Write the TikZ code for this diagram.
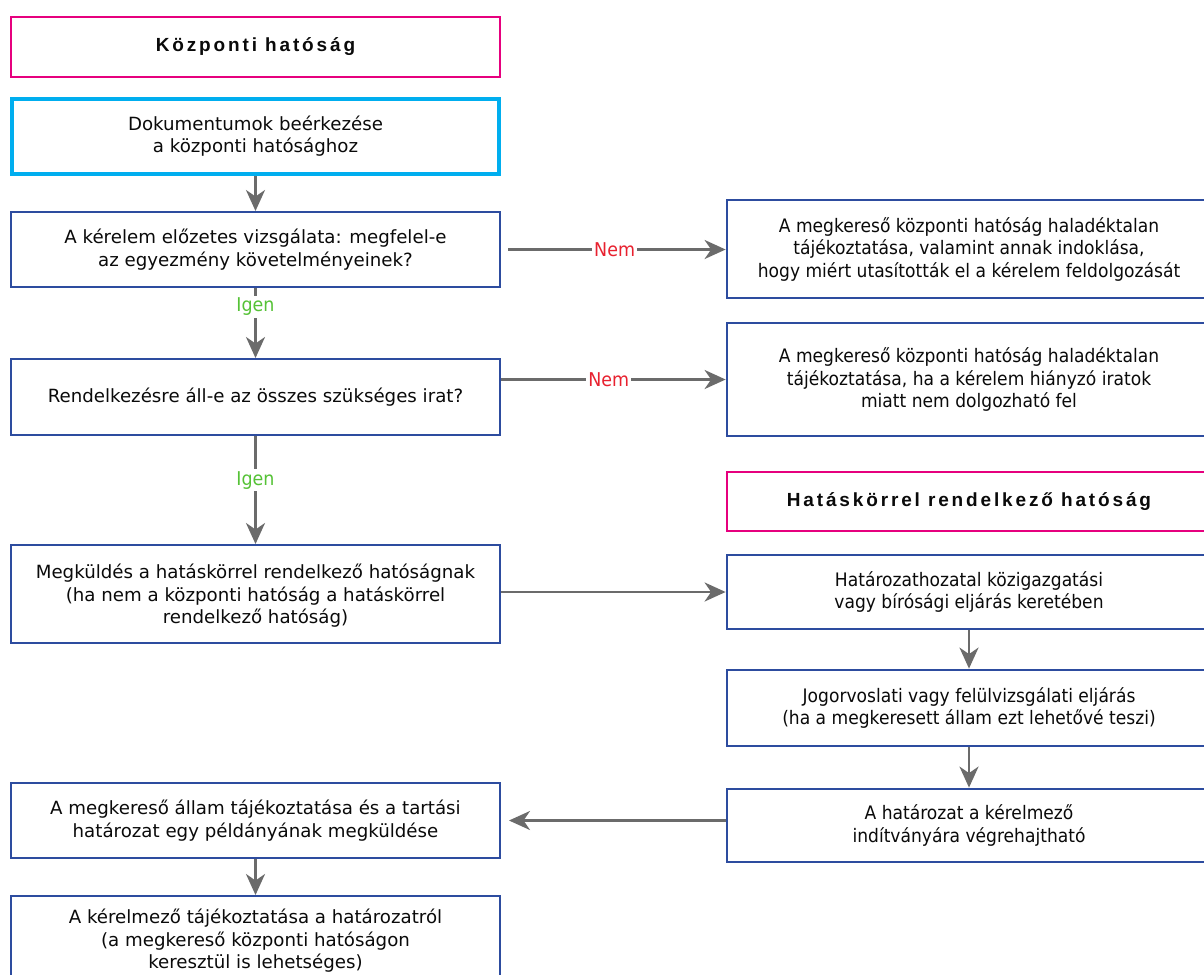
\documentclass[tikz,border=0pt]{standalone}
\usepackage{fontspec}
\setmainfont{DejaVu Sans}
\newfontfamily\condfont{DejaVu Sans}[FakeStretch=0.92]
\newfontfamily\headfont{Liberation Sans}[LetterSpace=15]
\usetikzlibrary{arrows.meta}
\definecolor{hdpink}{HTML}{E6007E}
\definecolor{startcyan}{HTML}{00AEEF}
\definecolor{boxblue}{HTML}{2D4C9F}
\definecolor{arrgray}{HTML}{6B6B6B}
\definecolor{yesgreen}{HTML}{55C236}
\definecolor{nored}{HTML}{E8212F}
\definecolor{inktext}{HTML}{0A0A0A}
\begin{document}
\begin{tikzpicture}[x=1pt,y=-1pt,
  box/.style={draw, fill=white, inner sep=0pt, align=center, text=inktext},
  lbox/.style={box, draw=boxblue, line width=2pt, minimum width=489pt,
    font=\fontsize{18.2}{22.5}\selectfont},
  rbox/.style={box, draw=boxblue, line width=2.8pt, minimum width=484pt,
    font=\condfont\fontsize{18.6}{22.5}\selectfont},
  head/.style={box, draw=hdpink, line width=2.8pt,
    font=\headfont\bfseries\fontsize{19}{22}\selectfont},
  arr/.style={draw=arrgray, line width=2.5pt,
    -{Stealth[length=21pt,width=19pt,inset=6.5pt]}},
  lab/.style={fill=white, inner sep=2pt, font=\condfont\fontsize{19}{20}\selectfont}]
\clip (0,0) rectangle (1204,974);
\fill[white] (0,0) rectangle (1204,974);

% left column: central authority
\node[head, minimum width=489pt, minimum height=60pt] (h1) at (255.5,47) {Központi hatóság};
\node[box, draw=startcyan, line width=4.5pt, minimum width=487pt, minimum height=75pt,
  font=\fontsize{18.2}{22}\selectfont] (b2) at (255.5,136.5)
  {Dokumentumok beérkezése\\a központi hatósághoz};
\node[lbox, minimum height=75pt] (b3) at (255.5,249.5)
  {A kérelem előzetes vizsgálata: megfelel-e\\az egyezmény követelményeinek?};
\node[lbox, minimum height=76pt] (b5) at (255.5,397)
  {Rendelkezésre áll-e az összes szükséges irat?};
\node[lbox, minimum height=98pt, text depth=0pt] (b8) at (255.5,594)
  {Megküldés a hatáskörrel rendelkező hatóságnak\\(ha nem a központi hatóság a hatáskörrel\\rendelkező hatóság)};
\node[lbox, minimum height=75pt] (b12) at (255.5,820.5)
  {A megkereső állam tájékoztatása és a tartási\\határozat egy példányának megküldése};
\node[lbox, minimum height=90pt, anchor=north] (b13) at (255.5,895)
  {A kérelmező tájékoztatása a határozatról\\(a megkereső központi hatóságon\\keresztül is lehetséges)};

% right column: rejections and the competent authority
\node[rbox, minimum height=98pt] (b4) at (969,249)
  {A megkereső központi hatóság haladéktalan\\tájékoztatása, valamint annak indoklása,\\hogy miért utasították el a kérelem feldolgozását};
\node[rbox, minimum height=113pt] (b6) at (969,379.5)
  {A megkereső központi hatóság haladéktalan\\tájékoztatása, ha a kérelem hiányzó iratok\\miatt nem dolgozható fel};
\node[head, minimum width=484pt, minimum height=59pt] (h2) at (969,501.5) {Hatáskörrel rendelkező hatóság};
\node[rbox, minimum height=74pt] (b9) at (969,592)
  {Határozathozatal közigazgatási\\vagy bírósági eljárás keretében};
\node[rbox, minimum height=76pt] (b10) at (969,708)
  {Jogorvoslati vagy felülvizsgálati eljárás\\(ha a megkeresett állam ezt lehetővé teszi)};
\node[rbox, minimum height=73pt] (b11) at (969,825.5)
  {A határozat a kérelmező\\indítványára végrehajtható};

% connectors
\draw[arr] (b2.south) -- (b3.north);
\draw[arr] (b3.south) -- node[lab, text=yesgreen, pos=0.27] (y1) {Igen} (b5.north);
\draw[arr] (b5.south) -- node[lab, text=yesgreen, pos=0.41] (y2) {Igen} (b8.north);
\draw[arr] ([xshift=7pt]b3.east) -- node[lab, text=nored, pos=0.49] (n1) {Nem} (b3.east -| b4.west);
\draw[arr] (b5.east |- b6.west) -- node[lab, text=nored, pos=0.48] (n2) {Nem} (b6.west);
\draw[arr] (b8.east |- b9.west) -- (b9.west);
\draw[arr] (b9.south) -- (b10.north);
\draw[arr] (b10.south) -- (b11.north);
\draw[arr] (b11.west |- b12.east) -- ([xshift=8pt]b12.east);
\draw[arr] (b12.south) -- (b13.north);
\end{tikzpicture}
\end{document}
